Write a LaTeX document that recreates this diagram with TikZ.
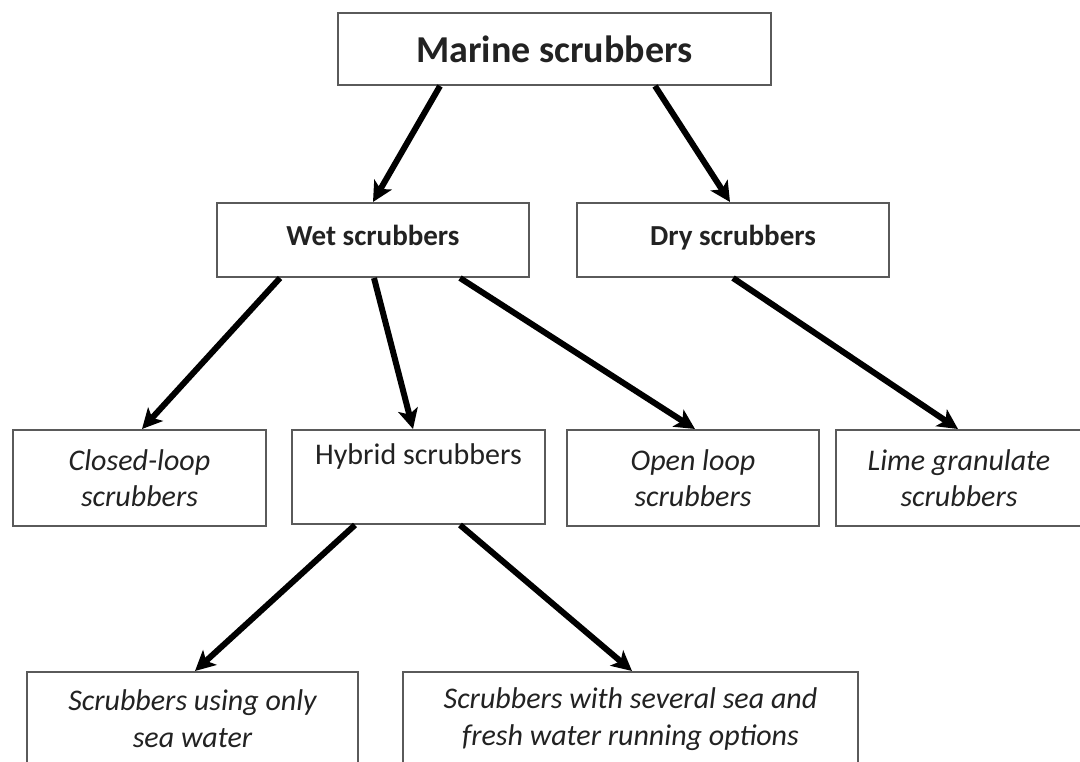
\documentclass[tikz,border=0pt]{standalone}
\usepackage{fontspec}
\setmainfont{Carlito}
\usetikzlibrary{arrows.meta}
\definecolor{boxgray}{HTML}{5A5A5A}
\definecolor{txt}{HTML}{222222}
\tikzset{
  box/.style={draw=boxgray, line width=2pt, fill=white, text=txt, align=center, inner sep=0pt, anchor=center},
  conn/.style={line width=6pt, black, -{Stealth[length=20pt,width=20pt,inset=5pt]}},
}
\begin{document}
\begin{tikzpicture}[x=1pt,y=-1pt]
\useasboundingbox (0,0) rectangle (1080,762);
\clip (0,0) rectangle (1080,762);
\fill[white] (0,0) rectangle (1080,762);
% top
\node[box, minimum width=433pt, minimum height=72pt, font=\fontsize{38}{40}\selectfont\bfseries] (marine) at (554.5,49) {Marine scrubbers};
% second level
\node[box, minimum width=312pt, minimum height=74pt, font=\fontsize{29}{32}\selectfont\bfseries] (wet) at (373,240) {\raisebox{9pt}{Wet scrubbers}};
\node[box, minimum width=312pt, minimum height=74pt, font=\fontsize{29}{32}\selectfont\bfseries] (dry) at (733,240) {\raisebox{9pt}{Dry scrubbers}};
% third level
\node[box, minimum width=253pt, minimum height=96pt, font=\fontsize{30}{36}\selectfont\itshape] (closed) at (139.5,478) {Closed-loop\\scrubbers};
\node[box, minimum width=253pt, minimum height=94pt, font=\fontsize{30}{36}\selectfont] (hybrid) at (418.5,477) {Hybrid scrubbers\\\strut};
\node[box, minimum width=252pt, minimum height=96pt, font=\fontsize{30}{36}\selectfont\itshape] (open) at (693,478) {Open loop\\scrubbers};
\node[box, minimum width=246pt, minimum height=96pt, font=\fontsize{30}{36}\selectfont\itshape] (lime) at (959,478) {Lime granulate\\scrubbers};
% fourth level
\node[box, minimum width=331pt, minimum height=94pt, font=\fontsize{30}{37}\selectfont\itshape] (using) at (192.5,719) {Scrubbers using only\\sea water};
\node[box, minimum width=455pt, minimum height=94pt, font=\fontsize{30}{37}\selectfont\itshape] (several) at (630.5,719) {Scrubbers with several sea and\\fresh water running options};
% connectors
\draw[conn] ([xshift=-114.5pt]marine.south) -- ([xshift=0pt]wet.north);
\draw[conn] ([xshift=100.5pt]marine.south) -- ([xshift=-3pt]dry.north);
\draw[conn] ([xshift=-93pt]wet.south) -- ([xshift=2.5pt]closed.north);
\draw[conn] ([xshift=1pt]wet.south) -- ([xshift=-5.5pt]hybrid.north);
\draw[conn] ([xshift=87pt]wet.south) -- ([xshift=2pt]open.north);
\draw[conn] ([xshift=0pt]dry.south) -- ([xshift=-1pt]lime.north);
\draw[conn] ([xshift=-63.5pt]hybrid.south) -- ([xshift=2.5pt]using.north);
\draw[conn] ([xshift=41.5pt]hybrid.south) -- ([xshift=1.5pt]several.north);
\end{tikzpicture}
\end{document}
